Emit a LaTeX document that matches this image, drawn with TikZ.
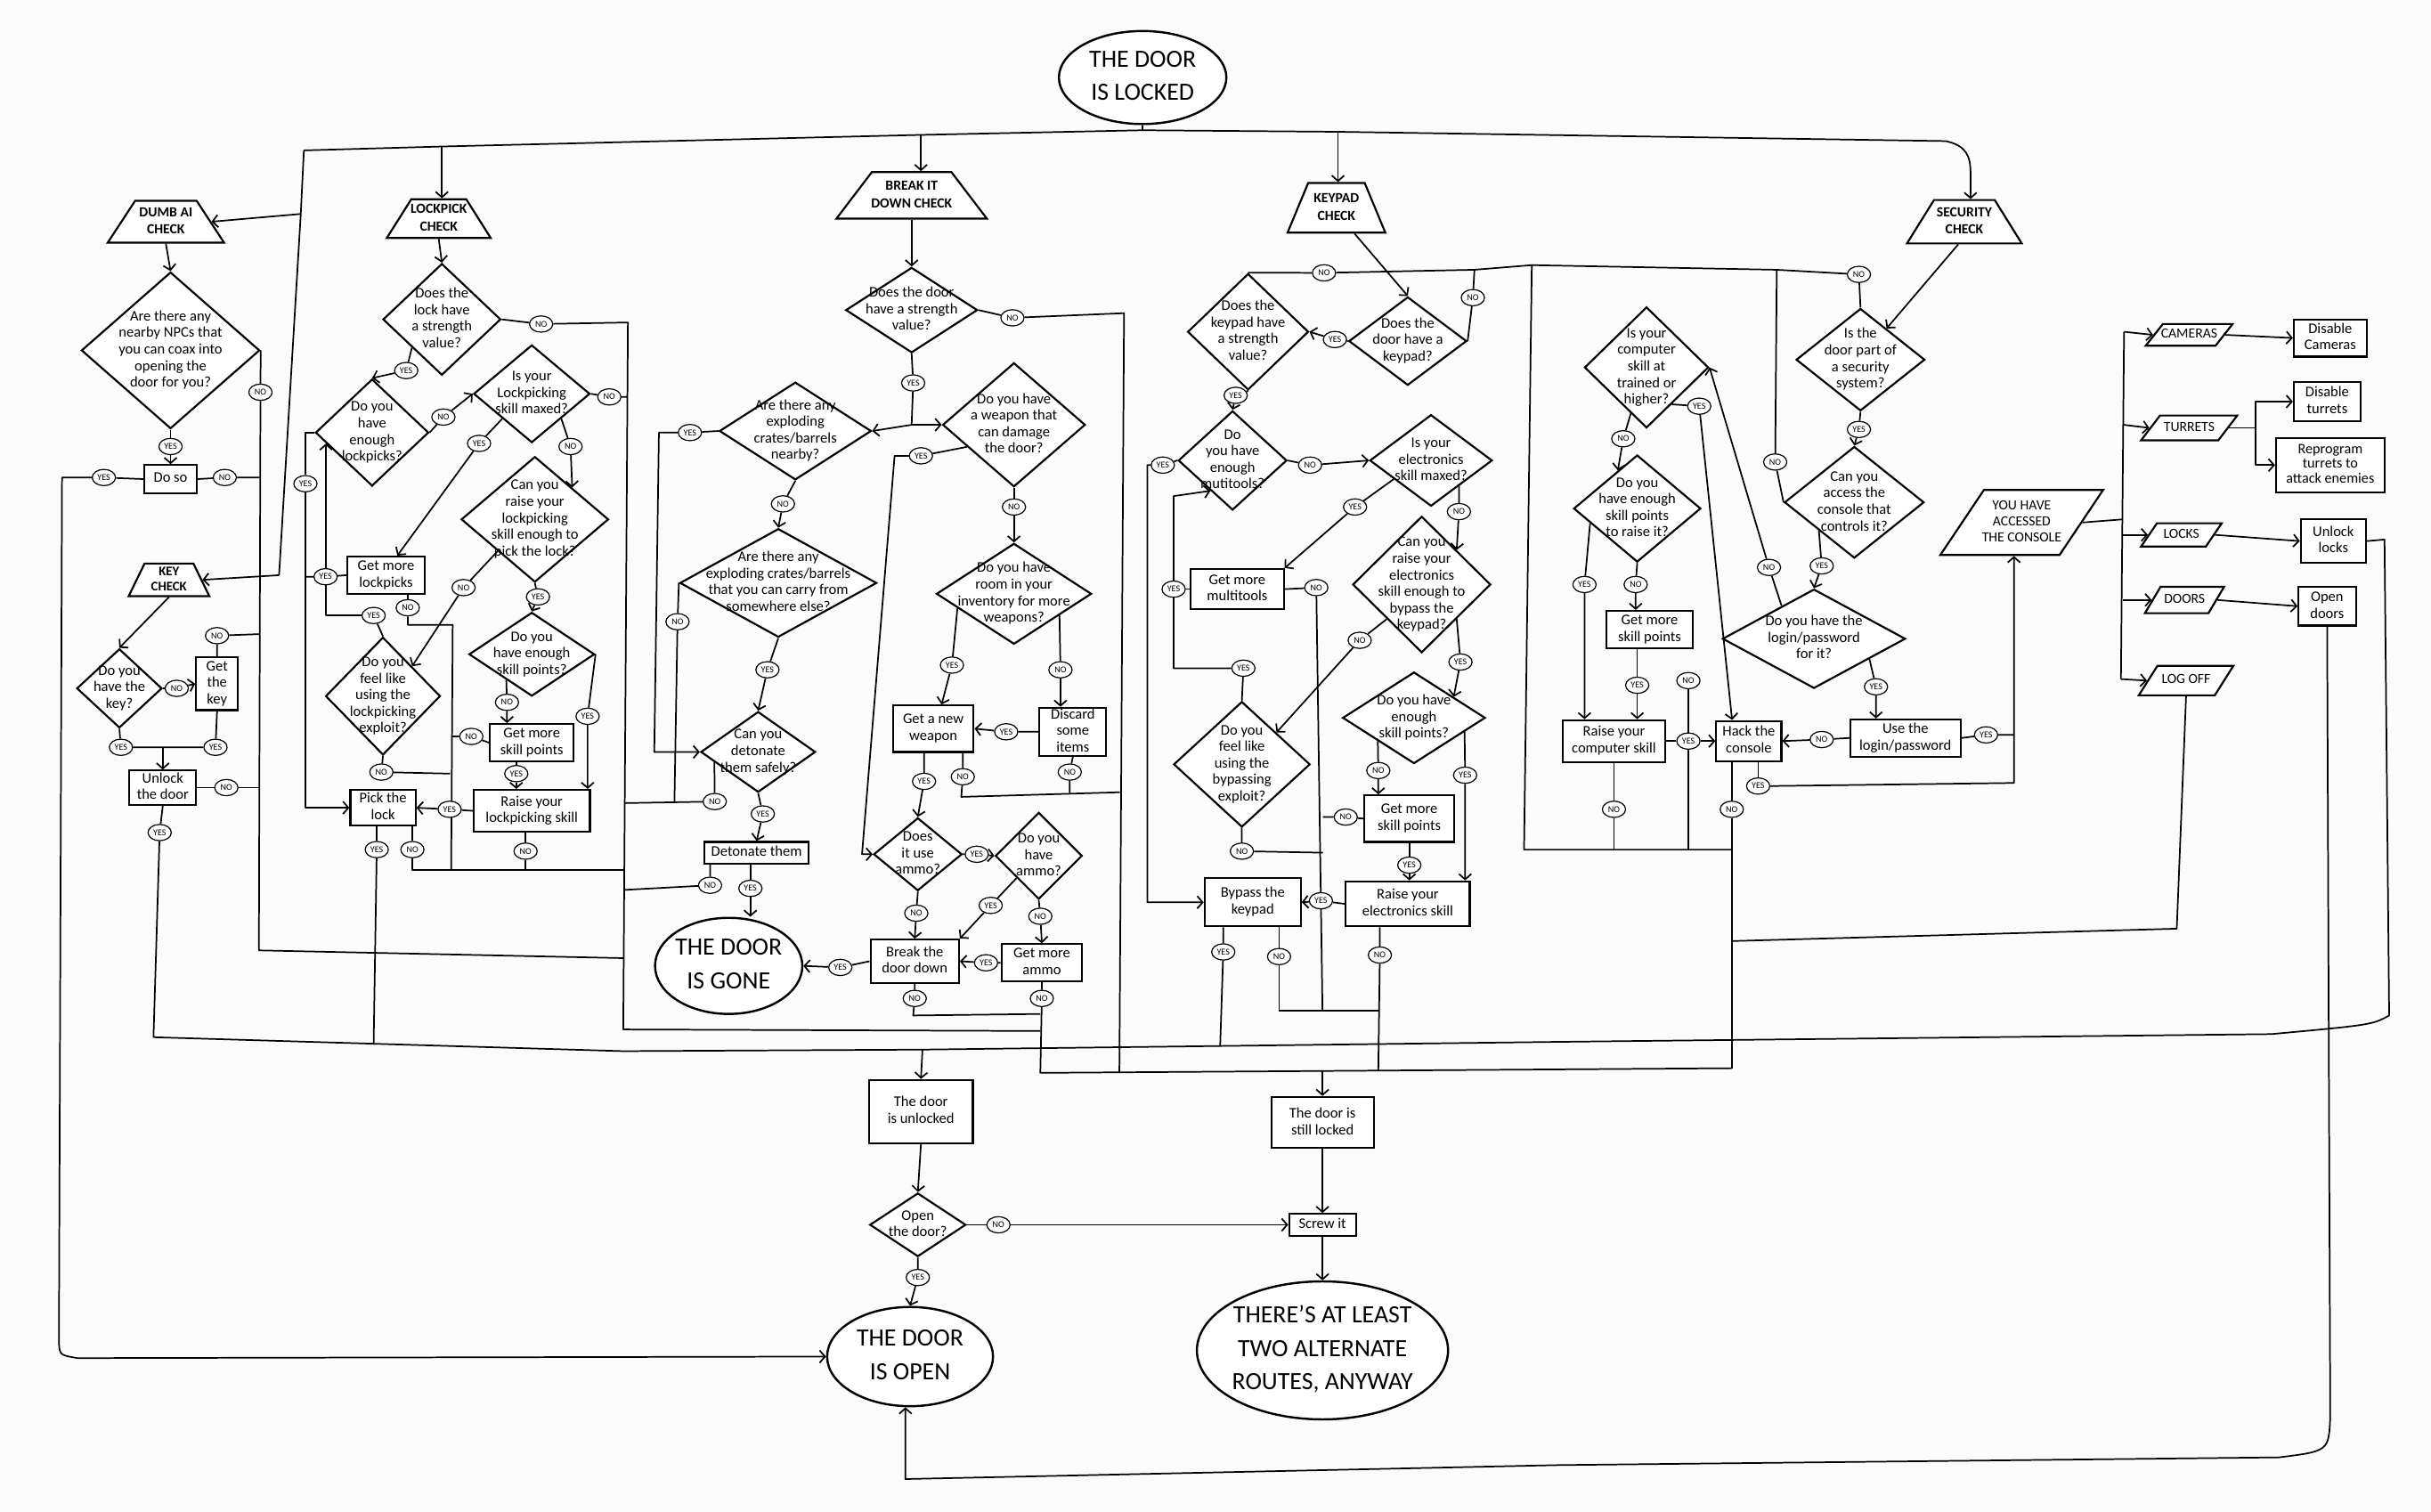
\documentclass[tikz,border=0pt]{standalone}
\usepackage{fontspec}
\setmainfont{Carlito}
\usetikzlibrary{shapes.geometric,arrows.meta,calc}
\pgfdeclarelayer{bg}
\pgfdeclarelayer{lines}
\pgfsetlayers{bg,lines,main}
\newcommand{\tx}[1]{\makebox[0pt]{\raisebox{-0.25em}[0pt][0pt]{\begin{tabular}{@{}c@{}}#1\end{tabular}}}}
\newcommand{\fs}[2]{\fontsize{#1}{#2}\selectfont}
\tikzset{
  sz/.style 2 args={minimum width=#1pt, minimum height=#2pt},
  base/.style={draw, fill=white, line width=1.25pt, inner sep=0.5pt, font=\fs{9.5}{10.7}},
  box/.style={base, rectangle},
  dia/.style={base, diamond},
  chk/.style={base, trapezium, trapezium stretches=true, trapezium left angle=66, trapezium right angle=66, font=\bfseries\fs{9}{11.3}},
  para/.style={base, trapezium, trapezium stretches=true, trapezium left angle=72, trapezium right angle=108, font=\fs{9}{10.3}},
  lbl/.style={draw, fill=white, ellipse, line width=0.7pt, inner sep=0pt, minimum width=15pt, minimum height=10.5pt, font=\fs{5.8}{6}},
  term/.style={base, ellipse, line width=1.4pt, font=\fs{16}{21.5}},
  con/.style={line width=1pt, line join=round},
}
\begin{document}
\begin{tikzpicture}[x=1pt, y=-1pt, >={Straight Barb[length=3.5pt,width=8pt]}]
\useasboundingbox (0,0) rectangle (1568,975);
\begin{pgfonlayer}{bg}
\fill[white!98.5!black] (0,0) rectangle (1568,975);
\end{pgfonlayer}

% ---------- terminals
\node[term, sz={108}{60}] (locked) at (737,50) {\tx{THE DOOR\\IS LOCKED}};
\node[term, sz={95}{62}] (gone) at (470,623) {\tx{THE DOOR\\IS GONE}};
\node[term, sz={107}{64}] (open) at (587,875) {\tx{THE DOOR\\IS OPEN}};
\node[term, sz={162}{89}] (alt) at (853,871) {\tx{THERE'S AT LEAST\\TWO ALTERNATE\\ROUTES, ANYWAY}};

% ---------- checks
\node[chk, sz={75}{27}] (dumbchk) at (107,143) {\tx{DUMB AI\\CHECK}};
\node[chk, sz={52}{21}, trapezium left angle=72, trapezium right angle=72, font=\bfseries\fs{8.5}{10}] (keychk) at (109,374) {\tx{KEY\\CHECK}};
\node[chk, sz={67}{25}] (lockchk) at (283,141) {\tx{LOCKPICK\\CHECK}};
\node[chk, sz={97}{30}] (brkchk) at (588,126) {\tx{BREAK IT\\DOWN CHECK}};
\node[chk, sz={63}{32}, trapezium left angle=70, trapezium right angle=70] (kpchk) at (862,134) {\tx{KEYPAD\\CHECK}};
\node[chk, sz={74}{28}] (secchk) at (1267,143) {\tx{SECURITY\\CHECK}};

% ---------- dumb AI / key
\node[dia, sz={115}{101}] (npc) at (110,226) {\tx{Are there any\\nearby NPCs that\\you can coax into\\opening the\\door for you?}};
\node[box, sz={34}{18}] (doso) at (110,309) {\tx{Do so}};
\node[dia, sz={55}{51}] (keyq) at (77,444) {\tx{Do you\\have the\\key?}};
\node[box, sz={27}{34}] (getkey) at (140,441) {\tx{Get\\the\\key}};
\node[box, sz={43}{22}] (unlockd) at (105,508) {\tx{Unlock\\the door}};

% ---------- lockpick
\node[dia, sz={76}{72}] (lockstr) at (285,206) {\tx{Does the\\lock have\\a strength\\value?}};
\node[dia, sz={73}{69}] (lpicks) at (240,279) {\tx{Do you\\have\\enough\\lockpicks?}};
\node[dia, sz={75}{63}] (lpmax) at (343,254) {\tx{Is your\\Lockpicking\\skill maxed?}};
\node[dia, sz={95}{81}] (raiselp) at (345,335) {\tx{Can you\\raise your\\lockpicking\\skill enough to\\pick the lock?}};
\node[box, sz={50}{24}] (getlp) at (249,371) {\tx{Get more\\lockpicks}};
\node[dia, sz={74}{76}] (lpexp) at (247,449) {\tx{Do you\\feel like\\using the\\lockpicking\\exploit?}};
\node[dia, sz={81}{54}] (lpsp) at (343,422) {\tx{Do you\\have enough\\skill points?}};
\node[box, sz={54}{24}] (lpgsp) at (343,479) {\tx{Get more\\skill points}};
\node[box, sz={75}{27}] (raiselpk) at (343,523) {\tx{Raise your\\lockpicking skill}};
\node[box, sz={42}{23}] (picklock) at (247,521) {\tx{Pick the\\lock}};

% ---------- break it down
\node[dia, sz={85}{55}] (doorstr) at (588,200) {\tx{Does the door\\have a strength\\value?}};
\node[dia, sz={98}{63}] (crates) at (513,278) {\tx{Are there any\\exploding\\crates/barrels\\nearby?}};
\node[dia, sz={127}{70}] (carry) at (502,376) {\tx{Are there any\\exploding crates/barrels\\that you can carry from\\somewhere else?}};
\node[dia, sz={74}{52}] (deton) at (489,485) {\tx{Can you\\detonate\\them safely?}};
\node[box, sz={67}{14}] (dettm) at (488,550) {\tx{Detonate them}};
\node[dia, sz={92}{80}] (weapon) at (654,274) {\tx{Do you have\\a weapon that\\can damage\\the door?}};
\node[dia, sz={100}{65}] (room) at (654,383) {\tx{Do you have\\room in your\\inventory for more\\weapons?}};
\node[box, sz={52}{30}] (getwpn) at (602,470) {\tx{Get a new\\weapon}};
\node[box, sz={43}{31}] (discard) at (692,472) {\tx{Discard\\some\\items}};
\node[dia, sz={57}{47}] (ammo) at (592,551) {\tx{Does\\it use\\ammo?}};
\node[dia, sz={56}{56}] (hammo) at (670,552) {\tx{Do you\\have\\ammo?}};
\node[box, sz={57}{28}] (brk) at (590,620) {\tx{Break the\\door down}};
\node[box, sz={52}{24}] (getammo) at (672,621) {\tx{Get more\\ammo}};

% ---------- keypad
\node[dia, sz={76}{57}] (doorkp) at (908,220) {\tx{Does the\\door have a\\keypad?}};
\node[dia, sz={78}{75}] (kpstr) at (805,214) {\tx{Does the\\keypad have\\a strength\\value?}};
\node[dia, sz={70}{64}] (multi) at (795,297) {\tx{Do\\you have\\enough\\mutitools?}};
\node[dia, sz={79}{59}] (elmax) at (923,297) {\tx{Is your\\electronics\\skill maxed?}};
\node[box, sz={60}{26}] (getmt) at (798,380) {\tx{Get more\\multitools}};
\node[dia, sz={89}{88}] (raiseel) at (917,377) {\tx{Can you\\raise your\\electronics\\skill enough to\\bypass the\\keypad?}};
\node[dia, sz={88}{81}] (kexp) at (801,493) {\tx{Do you\\feel like\\using the\\bypassing\\exploit?}};
\node[dia, sz={92}{59}] (kesp) at (912,463) {\tx{Do you have\\enough\\skill points?}};
\node[box, sz={58}{30}] (kgsp) at (909,528) {\tx{Get more\\skill points}};
\node[box, sz={80}{29}] (raiseelk) at (908,583) {\tx{Raise your\\electronics skill}};
\node[box, sz={62}{31}] (bypass) at (808,582) {\tx{Bypass the\\keypad}};

% ---------- computer / security
\node[dia, sz={80}{78}] (compq) at (1062,237) {\tx{Is your\\computer\\skill at\\trained or\\higher?}};
\node[dia, sz={82}{69}] (raisept) at (1056,328) {\tx{Do you\\have enough\\skill points\\to raise it?}};
\node[box, sz={56}{24}] (cgsp) at (1064,406) {\tx{Get more\\skill points}};
\node[box, sz={66}{27}] (raisecomp) at (1041,478) {\tx{Raise your\\computer skill}};
\node[box, sz={42}{26}] (hack) at (1128,478) {\tx{Hack the\\console}};
\node[dia, sz={83}{66}] (secq) at (1200,232) {\tx{Is the\\door part of\\a security\\system?}};
\node[dia, sz={90}{72}] (conq) at (1196,324) {\tx{Can you\\access the\\console that\\controls it?}};
\node[dia, sz={118}{64}] (loginq) at (1170,412) {\tx{Do you have the\\login/password\\for it?}};
\node[box, sz={71}{24}] (uselog) at (1229,476) {\tx{Use the\\login/password}};
\node[para, sz={105}{42}, trapezium left angle=60, trapezium right angle=120] (console) at (1304,337) {\tx{YOU HAVE\\ACCESSED\\THE CONSOLE}};
\node[para, sz={56}{14}] (cams) at (1412,216) {\tx{CAMERAS}};
\node[box, sz={47}{24}] (discam) at (1503,218) {\tx{Disable\\Cameras}};
\node[para, sz={62}{16}] (turr) at (1412,276) {\tx{TURRETS}};
\node[box, sz={43}{25}] (disturr) at (1501,259) {\tx{Disable\\turrets}};
\node[box, sz={70}{35}, font=\fs{9.3}{9.6}] (reprog) at (1503,300) {\tx{Reprogram\\turrets to\\attack enemies}};
\node[para, sz={52}{15}] (locksp) at (1407,345) {\tx{LOCKS}};
\node[box, sz={42}{28}] (unlocks) at (1505,349) {\tx{Unlock\\locks}};
\node[para, sz={51}{17}] (doorsp) at (1409,387) {\tx{DOORS}};
\node[box, sz={37}{25}] (opend) at (1501,391) {\tx{Open\\doors}};
\node[para, sz={61}{19}] (logoff) at (1410,439) {\tx{LOG OFF}};

% ---------- bottom
\node[box, sz={67}{41}, font=\fs{9.5}{11}] (unlbox) at (594,717) {\tx{The door\\is unlocked}};
\node[dia, sz={62}{41}] (openq) at (592,790) {\tx{Open\\the door?}};
\node[box, sz={66}{33}, font=\fs{9.5}{11}] (stillbox) at (853,724) {\tx{The door is\\still locked}};
\node[box, sz={43}{14}] (screw) at (853,790) {\tx{Screw it}};

% ---------- YES / NO labels
\node[lbl] (ny1) at (110,288) {YES};
\node[lbl] (nn1) at (168,253) {NO};
\node[lbl] (dn1) at (145,308) {NO};
\node[lbl] (dy1) at (67,308) {YES};
\node[lbl] (kn1) at (114,444) {NO};
\node[lbl] (kn2) at (140,410) {NO};
\node[lbl] (ky1) at (78,482) {YES};
\node[lbl] (ky2) at (139,482) {YES};
\node[lbl] (un1) at (146,508) {NO};
\node[lbl] (uy1) at (103,537) {YES};
\node[lbl] (ln1) at (349,209) {NO};
\node[lbl] (ly1) at (262,239) {YES};
\node[lbl] (ln2) at (286,269) {NO};
\node[lbl] (ly2) at (197,312) {YES};
\node[lbl] (ln3) at (393,256) {NO};
\node[lbl] (ly3) at (309,286) {YES};
\node[lbl] (ln4) at (368,288) {NO};
\node[lbl] (ly4) at (210,372) {YES};
\node[lbl] (ln5) at (263,392) {NO};
\node[lbl] (ly5) at (347,385) {YES};
\node[lbl] (ln6) at (299,379) {NO};
\node[lbl] (ly6) at (241,397) {YES};
\node[lbl] (ln7) at (246,498) {NO};
\node[lbl] (ln8) at (327,453) {NO};
\node[lbl] (ly7) at (379,462) {YES};
\node[lbl] (ln9) at (304,475) {NO};
\node[lbl] (ly8) at (333,499) {YES};
\node[lbl] (ly9) at (290,522) {YES};
\node[lbl] (ln10) at (339,549) {NO};
\node[lbl] (ly10) at (243,548) {YES};
\node[lbl] (ln11) at (266,548) {NO};
\node[lbl] (bn1) at (653,205) {NO};
\node[lbl] (by1) at (589,247) {YES};
\node[lbl] (by2) at (445,279) {YES};
\node[lbl] (bn2) at (505,325) {NO};
\node[lbl] (bn3) at (437,401) {NO};
\node[lbl] (by3) at (495,432) {YES};
\node[lbl] (bn4) at (461,517) {NO};
\node[lbl] (by4) at (492,525) {YES};
\node[lbl] (bn5) at (458,571) {NO};
\node[lbl] (by5) at (484,573) {YES};
\node[lbl] (by6) at (594,294) {YES};
\node[lbl] (bn6) at (654,327) {NO};
\node[lbl] (by7) at (614,429) {YES};
\node[lbl] (bn7) at (684,432) {NO};
\node[lbl] (by8) at (649,472) {YES};
\node[lbl] (bn8) at (690,498) {NO};
\node[lbl] (bn9) at (621,501) {NO};
\node[lbl] (by9) at (596,504) {YES};
\node[lbl] (by10) at (630,551) {YES};
\node[lbl] (bn10) at (591,589) {NO};
\node[lbl] (by11) at (639,584) {YES};
\node[lbl] (bn11) at (671,591) {NO};
\node[lbl] (by12) at (636,621) {YES};
\node[lbl] (by13) at (542,624) {YES};
\node[lbl] (bn12) at (590,644) {NO};
\node[lbl] (bn13) at (672,644) {NO};
\node[lbl] (kpn1) at (854,176) {NO};
\node[lbl] (kpn2) at (950,192) {NO};
\node[lbl] (kpy1) at (861,219) {YES};
\node[lbl] (kpy2) at (797,255) {YES};
\node[lbl] (kpn3) at (845,300) {NO};
\node[lbl] (kpy3) at (750,300) {YES};
\node[lbl] (kpy4) at (874,327) {YES};
\node[lbl] (kpn4) at (941,330) {NO};
\node[lbl] (kpy5) at (757,380) {YES};
\node[lbl] (kpn5) at (849,379) {NO};
\node[lbl] (kpn6) at (877,413) {NO};
\node[lbl] (kpy6) at (942,427) {YES};
\node[lbl] (kpy7) at (802,431) {YES};
\node[lbl] (kpn7) at (889,497) {NO};
\node[lbl] (kpy8) at (945,500) {YES};
\node[lbl] (kpn8) at (868,527) {NO};
\node[lbl] (kpn9) at (801,549) {NO};
\node[lbl] (kpy9) at (909,558) {YES};
\node[lbl] (kpy10) at (852,581) {YES};
\node[lbl] (kpy11) at (789,614) {YES};
\node[lbl] (kpn10) at (825,617) {NO};
\node[lbl] (kpn11) at (890,616) {NO};
\node[lbl] (cn1) at (1199,177) {NO};
\node[lbl] (sy1) at (1199,277) {YES};
\node[lbl] (cn2) at (1145,298) {NO};
\node[lbl] (cy1) at (1175,365) {YES};
\node[lbl] (cn3) at (1141,366) {NO};
\node[lbl] (cy2) at (1210,443) {YES};
\node[lbl] (cy3) at (1096,262) {YES};
\node[lbl] (cn4) at (1047,283) {NO};
\node[lbl] (cy4) at (1022,377) {YES};
\node[lbl] (cn5) at (1055,377) {NO};
\node[lbl] (cy5) at (1056,442) {YES};
\node[lbl] (cn6) at (1089,439) {NO};
\node[lbl] (cy6) at (1089,478) {YES};
\node[lbl] (cn7) at (1041,522) {NO};
\node[lbl] (cn8) at (1117,522) {NO};
\node[lbl] (cy7) at (1134,507) {YES};
\node[lbl] (cn9) at (1175,477) {NO};
\node[lbl] (cy8) at (1281,474) {YES};
\node[lbl] (on1) at (644,790) {NO};
\node[lbl] (oy1) at (592,824) {YES};

% ---------- connectors
\begin{pgfonlayer}{lines}
\coordinate (bL) at (196,97);
\coordinate (bA) at (285,94.5);
\coordinate (bB) at (594,87);
\coordinate (bT) at (737,84);
\coordinate (bC) at (863,85);
\coordinate (bR) at (1255,91);
\coordinate (lr1) at (194,138);
\coordinate (lr2) at (180,371);
\coordinate (J) at (588,274);

\draw[con] (locked.south) -- (bT);
\draw[con] (bL) -- (bA) -- (bB) -- (bT) -- (bC) -- (bR);
\draw[con,->] (bR) .. controls (1268,94) and (1271,100) .. (1271,112) -- (1271,0 |- secchk.north);
\draw[con,->] (bA) -- (bA |- lockchk.north);
\draw[con,->] (bB) -- (bB |- brkchk.north);
\draw[con,->] (bC) -- (bC |- kpchk.north);
\draw[con] (bL) -- (lr1) -- (lr2);
\draw[con,->] (lr1) -- (dumbchk.east);
\draw[con,->] (lr2) -- (keychk.east);

% dumb AI
\draw[con,->] (dumbchk.south) -- (npc.north);
\draw[con,->] (npc.south) -- (ny1) -- (doso.north);
\draw[con] (npc.east) -- (nn1) -- (167,613) -- (402.3,618);
\draw[con] (doso.east) -- (dn1) -- (167.4,308);
\draw[con,->] (doso.west) -- (dy1) -- (40,308) -- (38,866) .. controls (38.5,874) .. (50,876) -- (open.west);

% key
\draw[con,->] (keychk.south) -- (keyq.north);
\draw[con,->] (keyq.east) -- (kn1) -- (getkey.west);
\draw[con] (getkey.north) -- (kn2) -- (167.2,409);
\draw[con] (keyq.south) -- (ky1) -- (ky2) -- (getkey.south);
\draw[con,->] (unlockd.north |- ky1) -- (unlockd.north);
\draw[con] (unlockd.east) -- (un1) -- (167.2,508);
\draw[con] (unlockd.south) -- (uy1) -- (99,669);

% unlocked collector
\draw[con] (99,669) -- (402,678) -- (595,677) -- (1005,672) -- (1465,667) .. controls (1530,661) .. (1541,655) -- (1538,348) -- (unlocks.east);
\draw[con,->] (595,677) -- (unlbox.north);

% lockpick
\draw[con,->] (lockchk.south) -- (lockstr.north);
\draw[con] (lockstr.east) -- (ln1) -- (405,208) -- (402,664) -- (671,665);
\draw[con,->] (lockstr.south west) -- (ly1) -- (lpicks.north);
\draw[con,->] (lpicks.east) -- (ln2) -- (lpmax.west);
\draw[con] (lpmax.east) -- (ln3) -- (404.8,256);
\draw[con,->] (lpmax.south west) -- (ly3) -- (getlp.60);
\draw[con,->] (lpmax.south east) -- (ln4) -- (raiselp.north east);
\draw[con,->] (lpicks.west) -| (ly2) -- (ly2 |- picklock.west) -- (picklock.west);
\draw[con] (getlp.west) -- (ly4) -- (197,372);
\draw[con] (ln5 |- getlp.south) -- (ln5) -- (263,403) -- (292,403) -- (291,561);
\draw[con,->] (raiselp.south) -- (ly5) -- (lpsp.north);
\draw[con,->] (raiselp.south west) -- (ln6) -- (lpexp.north east);
\draw[con] (lpexp.north) -- (ly6);
\draw[con,->] (ly6.west) -| ($(lpicks.west)!0.2!(lpicks.south)$);
\draw[con] (lpexp.south) -- (ln7) -- (290.3,499);
\draw[con,->] ($(lpsp.west)!0.6!(lpsp.south)$) -- (ln8) -- (ln8 |- lpgsp.north);
\draw[con,->] (lpsp.east) -- (ly7) -- (ly7 |- raiselpk.north);
\draw[con] (lpgsp.west) -- (ln9) -- (291.3,475);
\draw[con,->] (ly8 |- lpgsp.south) -- (ly8) -- (ly8 |- raiselpk.north);
\draw[con,->] (raiselpk.west) -- (ly9) -- (picklock.east);
\draw[con] (ln10 |- raiselpk.south) -- (ln10) -- (339,561);
\draw[con] (ln11 |- picklock.south) -- (ln11) -- (266,561) -- (402.7,561);
\draw[con] (ly10 |- picklock.south) -- (ly10) -- (241,673.2);

% break it down
\draw[con,->] (brkchk.south) -- (doorstr.north);
\draw[con] (doorstr.east) -- (bn1) -- (725,202) -- (722,692);
\draw[con] (doorstr.south) -- (by1) -- (J);
\draw[con,->] (J) -- (crates.east);
\draw[con,->] (J) -- (weapon.west);
\draw[con,->] (crates.west) -- (by2) -- (425,279) -- (422,485) -- (deton.west);
\draw[con,->] (crates.south) -- (bn2) -- (carry.north);
\draw[con] (carry.west) -- (bn3) -- (435,518);
\draw[con,->] (carry.south) -- (by3) -- (deton.north);
\draw[con] ($(deton.west)!0.25!(deton.south)$) -- (bn4) -- (403,518);
\draw[con,->] (deton.south) -- (by4) -- (dettm.north);
\draw[con] (bn5 |- dettm.south) -- (bn5) -- (402.6,574);
\draw[con,->] (by5 |- dettm.south) -- (by5) -- (by5 |- gone.north);
\draw[con,->] ($(weapon.west)!0.35!(weapon.south)$) -- (by6) -- (577,294) -- (556,551) -- (ammo.west);
\draw[con,->] (weapon.south) -- (bn6) -- (room.north);
\draw[con,->] ($(room.west)!0.28!(room.south)$) -- (by7) -- ($(getwpn.north)!0.2!(getwpn.north east)$);
\draw[con,->] ($(room.east)!0.42!(room.south)$) -- (bn7) -- (bn7 |- discard.north);
\draw[con,->] (discard.west) -- (by8) -- (getwpn.east);
\draw[con] (discard.south) -- (bn8) -- (690,511.4);
\draw[con] (bn9 |- getwpn.south) -- (bn9) -- (620,514) -- (722.3,511);
\draw[con,->] (by9 |- getwpn.south) -- (by9) -- (ammo.north);
\draw[con,->] (ammo.east) -- (by10) -- (hammo.west);
\draw[con,->] (ammo.south) -- (bn10) -- (brk.north);
\draw[con,->] ($(hammo.west)!0.5!(hammo.south)$) -- (by11) -- (brk.north east);
\draw[con,->] (hammo.south) -- (bn11) -- (getammo.north);
\draw[con,->] (getammo.west) -- (by12) -- (brk.east);
\draw[con,->] (brk.west) -- (by13) -- (gone.east);
\draw[con] (brk.south) -- (bn12) -- (589,655) -- (671,654);
\draw[con] (getammo.south) -- (bn13) -- (671,692) -- (1117,689);
\draw[con,->] (853,690.8) -- (stillbox.north);

% keypad
\draw[con,->] ($(kpchk.south)!0.7!(kpchk.south east)$) -- (doorkp.north);
\draw[con,->] (doorkp.west) -- (kpy1) -- (kpstr.east);
\draw[con] (doorkp.east) -- (kpn2) -- (951,174);
\draw[con] (kpstr.north) -- (kpn1) -- (951,174) -- (988,171) -- (1146,174) -- (cn1);
\draw[con] (cn1) -- (secq.north);
\draw[con] (988,171) -- (983,548) -- (1117,548);
\draw[con,->] (kpstr.south) -- (kpy2) -- (multi.north);
\draw[con,->] (multi.east) -- (kpn3) -- (elmax.west);
\draw[con,->] (multi.west) -- (kpy3) -- (740,300) -- (740,582) -- (bypass.west);
\draw[con,->] ($(elmax.west)!0.4!(elmax.south)$) -- (kpy4) -- (getmt.north east);
\draw[con,->] ($(elmax.east)!0.55!(elmax.south)$) -- (kpn4) -- ($(raiseel.north)!0.5!(raiseel.east)$);
\draw[con] (getmt.east) -- (kpn5) -- (853,652);
\draw[con] (825,652) -- (889,652);
\draw[con,->] ($(raiseel.west)!0.5!(raiseel.south)$) -- (kpn6) -- (kexp.north east);
\draw[con,->] ($(raiseel.east)!0.5!(raiseel.south)$) -- (kpy6) -- ($(kesp.north)!0.55!(kesp.east)$);
\draw[con] (kexp.north) -- (kpy7);
\draw[con,->] (kpy7.west) -| (757,320) -- ($(multi.west)!0.6!(multi.south)$);
\draw[con] (getmt.west) -- (kpy5);
\draw[con] (kexp.south) -- (kpn9) -- (853.3,550);
\draw[con,->] ($(kesp.west)!0.5!(kesp.south)$) -- (kpn7) -- (kpn7 |- kgsp.north);
\draw[con,->] ($(kesp.east)!0.3!(kesp.south)$) -- (kpy8) -- (kpy8 |- raiseelk.north);
\draw[con] (kgsp.west) -- (kpn8) -- (853.2,527);
\draw[con,->] (kpy9 |- kgsp.south) -- (kpy9) -- (kpy9 |- raiseelk.north);
\draw[con,->] (raiseelk.west) -- (kpy10) -- (bypass.east);
\draw[con] (kpy11 |- bypass.south) -- (kpy11) -- (787,674.7);
\draw[con] (kpn10 |- bypass.south) -- (kpn10) -- (825,652);
\draw[con] (kpn11 |- raiseelk.south) -- (kpn11) -- (889,690.5);

% security / computer
\draw[con,->] ($(secchk.south)!0.27!(secchk.south west)$) -- ($(secq.north)!0.4!(secq.east)$);
\draw[con,->] (secq.south) -- (sy1) -- (conq.north);
\draw[con] (conq.west) -- (cn2) -- (1146,174);
\draw[con,->] ($(conq.west)!0.5!(conq.south)$) -- (cy1) -- (loginq.north);
\draw[con,->] ($(loginq.west)!0.65!(loginq.north)$) -- (cn3) -- (compq.east);
\draw[con,->] ($(loginq.east)!0.4!(loginq.south)$) -- (cy2) -- (cy2 |- uselog.north);
\draw[con,->] ($(compq.east)!0.6!(compq.south)$) -- (cy3) -- ($(hack.north)!0.5!(hack.north west)$);
\draw[con,->] ($(compq.south)!0.25!(compq.west)$) -- (cn4) -- ($(raisept.north)!0.3!(raisept.west)$);
\draw[con,->] ($(raisept.west)!0.27!(raisept.south)$) -- (cy4) -- (cy4 |- raisecomp.north);
\draw[con,->] (raisept.south) -- (cn5) -- (cn5 |- cgsp.north);
\draw[con,->] (cy5 |- cgsp.south) -- (cy5) -- (cy5 |- raisecomp.north);
\draw[con] (cn6) -- (1089,548);
\draw[con,->] (raisecomp.east) -- (cy6) -- (hack.west);
\draw[con] (raisecomp.south) -- (cn7) -- (1041,548);
\draw[con] (cn8 |- hack.south) -- (cn8) -- (1117,689);
\draw[con] (cy7 |- hack.south) -- (cy7);
\draw[con,->] (cy7.east) -- (1299,505) -- (1299,0 |- console.south);
\draw[con,->] (uselog.west) -- (cn9) -- (hack.east);
\draw[con] (uselog.east) -- (cy8) -- (1299,474);
\draw[con] (logoff.south) -- (1404,599) -- (1117,607);
\draw[con] (console.east) -- (1369,335);
\draw[con] (1370,214) -- (1368,438);
\draw[con,->] (1370,214) -- (cams.west);
\draw[con,->] (1369.7,274) -- (turr.west);
\draw[con,->] (1369.2,345) -- (locksp.west);
\draw[con,->] (1369,387) -- (doorsp.west);
\draw[con,->] (1368,438) -- (logoff.west);
\draw[con,->] (cams.east) -- (discam.west);
\draw[con] (turr.east) -- (1455,276);
\draw[con,->] (1455,276) |- (disturr.west);
\draw[con,->] (1455,276) |- (reprog.west);
\draw[con,->] (locksp.east) -- (unlocks.west);
\draw[con,->] (doorsp.east) -- (opend.west);
\draw[con,->] (opend.south) -- (1503,914) .. controls (1502,936) .. (1470,940) -- (1005,945) -- (584,954) -- (584,0 |- open.south);

% bottom
\draw[con,->] (unlbox.south) -- (openq.north);
\draw[con,->] (openq.east) -- (on1) -- (screw.west);
\draw[con,->] (openq.south) -- (oy1) -- (open.north);
\draw[con,->] (stillbox.south) -- (screw.north);
\draw[con,->] (screw.south) -- (alt.north);
\end{pgfonlayer}
\end{tikzpicture}
\end{document}
